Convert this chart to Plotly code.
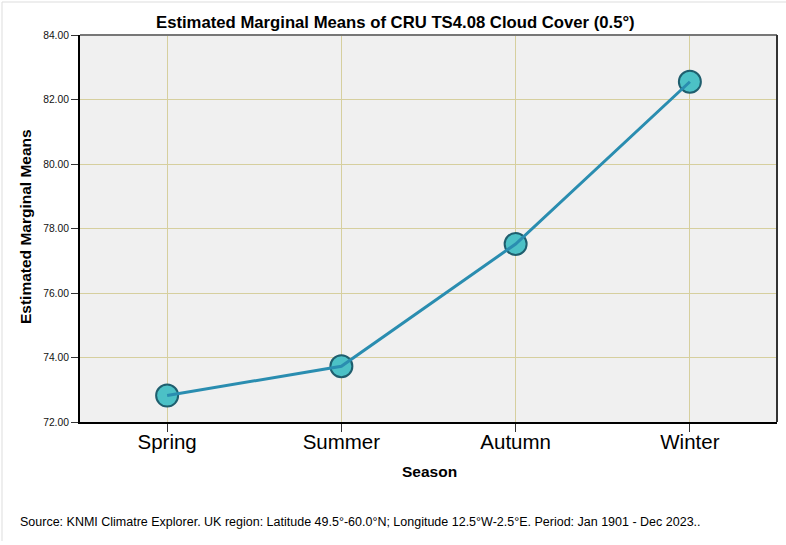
import plotly.graph_objects as go

seasons = ["Spring", "Summer", "Autumn", "Winter"]
means = [72.82, 73.73, 77.52, 82.55]
y_ticks = [72, 74, 76, 78, 80, 82, 84]

title_text = "Estimated Marginal Means of CRU TS4.08 Cloud Cover (0.5°)"
y_title = "Estimated Marginal Means"
x_title = "Season"
source_text = ("Source: KNMI Climatre Explorer. UK region: Latitude 49.5°-60.0°N; "
               "Longitude 12.5°W-2.5°E. Period: Jan 1901 - Dec 2023..")

FONT = "Liberation Sans, Arial, sans-serif"
GRID = "#d6cf9e"

fig = go.Figure()
# markers first, line drawn over them
fig.add_trace(go.Scatter(
    x=seasons, y=means, mode="markers",
    marker=dict(size=22, color="#4cc1c6", line=dict(color="#1f5e6e", width=2)),
    hoverinfo="skip", showlegend=False,
))
fig.add_trace(go.Scatter(
    x=seasons, y=means, mode="lines",
    line=dict(color="#2a8db0", width=3),
    showlegend=False,
))

fig.update_layout(
    width=786, height=545,
    margin=dict(l=80, r=9, t=35, b=123),
    paper_bgcolor="white",
    plot_bgcolor="#f0f0f0",
    font=dict(family=FONT, color="black"),
    xaxis=dict(
        type="category", range=[-0.5, 3.5],
        showgrid=True, gridcolor=GRID, gridwidth=1,
        showline=True, linecolor="black", linewidth=2,
        ticks="outside", ticklen=8, tickcolor="#333", tickwidth=1,
        ticklabelstandoff=-8,
        tickfont=dict(size=20.5, family=FONT, color="black"),
        zeroline=False,
    ),
    yaxis=dict(
        range=[72, 84], tickvals=y_ticks, tickformat=".2f",
        showgrid=True, gridcolor=GRID, gridwidth=1,
        showline=True, linecolor="black", linewidth=2,
        ticks="outside", ticklen=7, tickcolor="#333", tickwidth=1,
        tickfont=dict(size=10.3, family=FONT, color="#111"),
        zeroline=False,
    ),
    shapes=[
        dict(type="line", xref="paper", yref="paper", x0=0, x1=1, y0=1, y1=1,
             line=dict(color="#777777", width=2)),
        dict(type="line", xref="paper", yref="paper", x0=1, x1=1, y0=0, y1=1,
             line=dict(color="#333333", width=2)),
        # light outer frame (left and top edges of the image)
        dict(type="line", xref="paper", yref="paper",
             x0=-78/697, x1=-78/697, y0=-(123 - 4) / 387, y1=(387 + 33) / 387,
             line=dict(color="#dddddd", width=1)),
        dict(type="line", xref="paper", yref="paper",
             x0=-78/697, x1=1 + 9/697, y0=(387 + 33) / 387, y1=(387 + 33) / 387,
             line=dict(color="#dddddd", width=1)),
    ],
    annotations=[
        dict(text="<b>" + title_text + "</b>", xref="paper", yref="paper",
             x=(395 - 80) / 697, y=(387 + 35 - 22) / 387, xanchor="center", yanchor="middle",
             showarrow=False, font=dict(size=16.7, family=FONT, color="black")),
        dict(text="<b>" + y_title + "</b>", xref="paper", yref="paper",
             x=(25 - 80) / 697, y=(422 - 227) / 387, xanchor="center", yanchor="middle",
             textangle=-90,
             showarrow=False, font=dict(size=15.5, family=FONT, color="black")),
        dict(text="<b>" + x_title + "</b>", xref="paper", yref="paper",
             x=(429 - 80) / 697, y=-(471 - 422) / 387, xanchor="center", yanchor="middle",
             showarrow=False, font=dict(size=15.5, family=FONT, color="black")),
        dict(text=source_text, xref="paper", yref="paper",
             x=(18 - 80) / 697, y=-(522 - 422) / 387, xanchor="left", yanchor="middle",
             showarrow=False, font=dict(size=12.5, family=FONT, color="black")),
    ],
)

fig.write_html("out.html", config={"displayModeBar": False},
               post_script="document.body.style.margin='0';")
